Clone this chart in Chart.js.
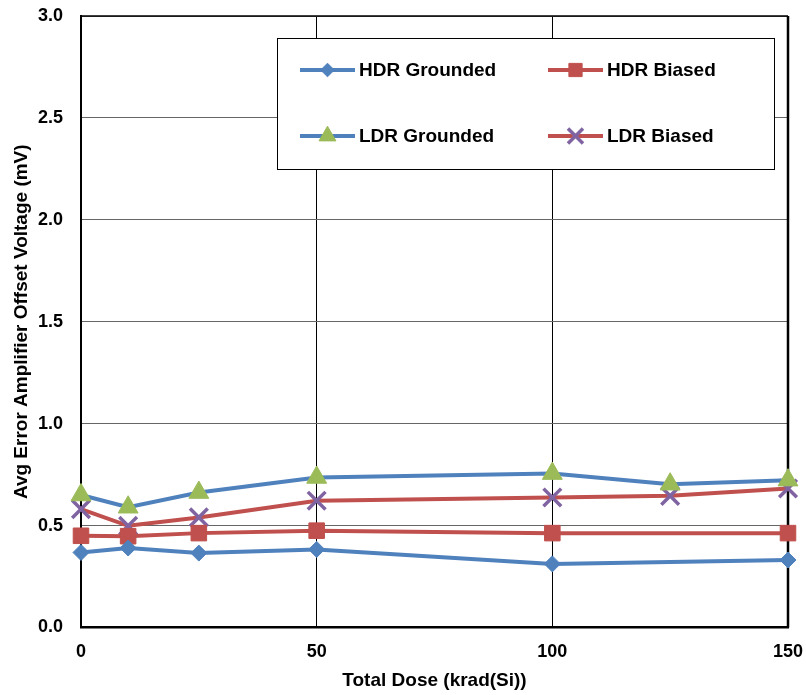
<!DOCTYPE html>
<html>
<head>
<meta charset="utf-8">
<script src="https://cdn.jsdelivr.net/npm/chart.js@4.4.0/dist/chart.umd.min.js"></script>
<style>
html,body{margin:0;padding:0;background:#fff;}
#wrap{width:806px;height:695px;position:relative;}
</style>
</head>
<body>
<div id="wrap"><canvas id="c" width="806" height="695"></canvas></div>
<script>
// ---- data ----
const hdrDose = [0, 10, 25, 50, 100, 150];
const ldrDose = [0, 10, 25, 50, 100, 125, 150];
const hdrGrounded = [0.368, 0.390, 0.365, 0.383, 0.312, 0.331];
const hdrBiased   = [0.450, 0.448, 0.463, 0.475, 0.463, 0.463];
const ldrGrounded = [0.650, 0.590, 0.662, 0.736, 0.755, 0.703, 0.723];
const ldrBiased   = [0.581, 0.499, 0.540, 0.622, 0.638, 0.646, 0.682];
const seriesNames = ['HDR Grounded', 'HDR Biased', 'LDR Grounded', 'LDR Biased'];
const xTicks = [0, 50, 100, 150];
const yMin = 0, yMax = 3.0, yStep = 0.5;
const xTitle = 'Total Dose (krad(Si))';
const yTitle = 'Avg Error Amplifier Offset Voltage (mV)';

const BLUE = '#4F81BD', RED = '#C0504D', GREEN = '#9BBB59', PURPLE = '#8064A2';
const FONT = "'Liberation Sans', Arial, sans-serif";

function pts(xs, ys) { return xs.map((x, i) => ({x: x, y: ys[i]})); }

const datasets = [
  {label: seriesNames[0], data: pts(hdrDose, hdrGrounded), borderColor: BLUE, backgroundColor: BLUE,
   pointStyle: 'rectRot', pointRadius: 8, pointBorderColor: BLUE, pointBackgroundColor: BLUE, pointBorderWidth: 1},
  {label: seriesNames[1], data: pts(hdrDose, hdrBiased), borderColor: RED, backgroundColor: RED,
   pointStyle: 'rect', pointRadius: 11, pointBorderColor: RED, pointBackgroundColor: RED, pointBorderWidth: 1},
  {label: seriesNames[2], data: pts(ldrDose, ldrGrounded), borderColor: BLUE, backgroundColor: GREEN,
   pointStyle: 'triangle', pointRadius: 11.5, pointBorderColor: GREEN, pointBackgroundColor: GREEN, pointBorderWidth: 1},
  {label: seriesNames[3], data: pts(ldrDose, ldrBiased), borderColor: RED, backgroundColor: PURPLE,
   pointStyle: 'crossRot', pointRadius: 12.5, pointBorderColor: PURPLE, pointBackgroundColor: PURPLE, pointBorderWidth: 3.5},
].map(d => Object.assign({borderWidth: 4, tension: 0, fill: false, clip: false, pointHoverRadius: d.pointRadius}, d));

function drawMarker(ctx, ds, x, y) {
  const r = ds.pointRadius;
  ctx.save();
  ctx.fillStyle = ds.pointBackgroundColor;
  ctx.strokeStyle = ds.pointBorderColor;
  ctx.lineWidth = ds.pointBorderWidth;
  ctx.beginPath();
  if (ds.pointStyle === 'rectRot') {
    ctx.moveTo(x, y - r); ctx.lineTo(x + r, y); ctx.lineTo(x, y + r); ctx.lineTo(x - r, y); ctx.closePath();
    ctx.fill(); ctx.stroke();
  } else if (ds.pointStyle === 'rect') {
    const s = r * Math.SQRT1_2;
    ctx.rect(x - s, y - s, 2 * s, 2 * s); ctx.fill(); ctx.stroke();
  } else if (ds.pointStyle === 'triangle') {
    for (let i = 0; i < 3; i++) {
      const a = i * 2 * Math.PI / 3;
      const px = x + Math.sin(a) * r, py = y - Math.cos(a) * r;
      if (i === 0) ctx.moveTo(px, py); else ctx.lineTo(px, py);
    }
    ctx.closePath(); ctx.fill(); ctx.stroke();
  } else if (ds.pointStyle === 'crossRot') {
    const o = r * Math.SQRT1_2;
    ctx.moveTo(x - o, y - o); ctx.lineTo(x + o, y + o);
    ctx.moveTo(x + o, y - o); ctx.lineTo(x - o, y + o);
    ctx.stroke();
  }
  ctx.restore();
}

const framePlugin = {
  id: 'frame',
  beforeDatasetsDraw(chart) {
    const {ctx, chartArea: a} = chart;
    ctx.save();
    ctx.strokeStyle = '#000';
    ctx.lineWidth = 1.5;
    ctx.beginPath(); ctx.moveTo(a.left, a.top); ctx.lineTo(a.right, a.top); ctx.stroke();
    ctx.lineWidth = 2.5;
    ctx.beginPath(); ctx.moveTo(a.right, a.top); ctx.lineTo(a.right, a.bottom); ctx.stroke();
    ctx.restore();
  },
  afterDraw(chart) {
    const {ctx, chartArea: a} = chart;
    const bx = a.left + 196, by = a.top + 22, bw = 497, bh = 131;
    ctx.save();
    ctx.fillStyle = '#fff';
    ctx.fillRect(bx, by, bw, bh);
    ctx.strokeStyle = '#000';
    ctx.lineWidth = 1;
    ctx.strokeRect(bx + 0.5, by + 0.5, bw, bh);
    const cols = [bx + 23, bx + 271];
    const rows = [by + 32, by + 98];
    chart.data.datasets.forEach((ds, i) => {
      const cx = cols[i % 2], cy = rows[Math.floor(i / 2)];
      ctx.strokeStyle = ds.borderColor;
      ctx.lineWidth = 4;
      ctx.beginPath(); ctx.moveTo(cx, cy); ctx.lineTo(cx + 55, cy); ctx.stroke();
      const legDs = Object.assign({}, ds, {pointRadius: ds.pointRadius * 0.85});
      drawMarker(ctx, legDs, cx + 27.5, cy);
      ctx.fillStyle = '#000';
      ctx.font = 'bold 19px ' + FONT;
      ctx.textBaseline = 'middle';
      ctx.textAlign = 'left';
      ctx.fillText(ds.label, cx + 59, cy + 1);
    });
    ctx.restore();
  }
};

new Chart(document.getElementById('c'), {
  type: 'line',
  data: {datasets: datasets},
  plugins: [framePlugin],
  options: {
    responsive: false,
    animation: false,
    layout: {padding: {left: 0, top: 14, right: 18, bottom: 0}},
    plugins: {legend: {display: false}, tooltip: {enabled: false}},
    scales: {
      x: {
        type: 'linear', min: 0, max: 150,
        afterBuildTicks: s => { s.ticks = xTicks.map(v => ({value: v})); },
        afterFit: s => { s.height = 67.5; s.paddingLeft = 0; s.paddingRight = 0; },
        ticks: {color: '#000', font: {family: FONT, size: 18, weight: 'bold'}, padding: 14, maxRotation: 0},
        grid: {color: '#000', lineWidth: 1, drawTicks: false},
        border: {color: '#000', width: 2.5},
        title: {display: true, text: xTitle, color: '#000', font: {family: FONT, size: 19, weight: 'bold'}, padding: {top: 0, bottom: 3}}
      },
      y: {
        type: 'linear', min: yMin, max: yMax,
        afterFit: s => { s.width = 81; s.paddingTop = 0; s.paddingBottom = 0; },
        ticks: {stepSize: yStep, color: '#000', font: {family: FONT, size: 18, weight: 'bold'}, padding: 18,
                callback: v => v.toFixed(1)},
        grid: {color: '#666', lineWidth: 1, drawTicks: false},
        border: {color: '#000', width: 2},
        title: {display: true, text: yTitle, color: '#000', font: {family: FONT, size: 19, weight: 'bold'}, padding: {top: 10, bottom: 0}}
      }
    }
  }
});
</script>
</body>
</html>
